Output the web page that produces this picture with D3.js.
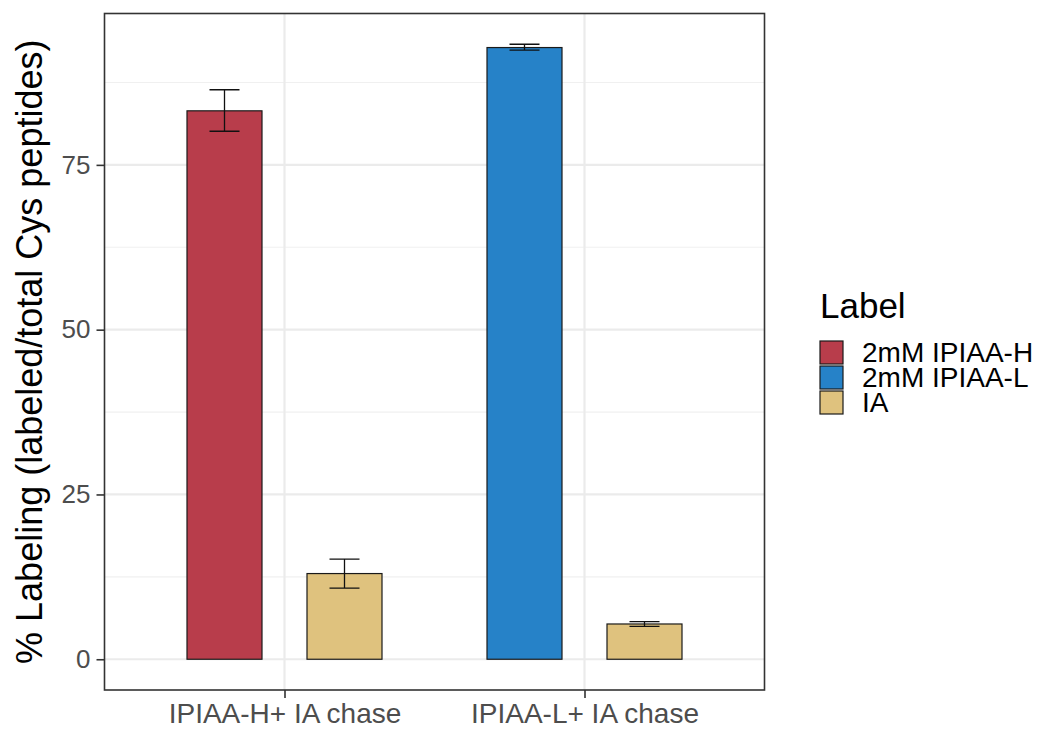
<!DOCTYPE html>
<html>
<head>
<meta charset="utf-8">
<script src="https://cdn.jsdelivr.net/npm/d3@7"></script>
<style>
body { margin: 0; background: #fff; }
text { font-family: "Liberation Sans", Arial, sans-serif; }
</style>
</head>
<body>
<svg width="1039" height="730"></svg>
<script>
const categories = ["IPIAA-H+ IA chase", "IPIAA-L+ IA chase"]
const labels = ["2mM IPIAA-H", "2mM IPIAA-L", "IA"]
const colors = ["#B83D4B", "#2682C8", "#DFC27E"]
// one row per bar: category index, label index, mean, lower, upper
const barCat = [0, 0, 1, 1]
const barLabel = [0, 2, 1, 2]
const barMean = [83.2, 13.0, 92.8, 5.35]
const barLow = [80.1, 10.8, 92.4, 5.0]
const barHigh = [86.4, 15.2, 93.3, 5.7]
const yTicks = [0, 25, 50, 75]
const yMinor = [12.5, 37.5, 62.5, 87.5]

const bars = barMean.map(function(d, i) {
  return { cat: barCat[i], label: barLabel[i], mean: d, lo: barLow[i], hi: barHigh[i] }
})

const panel = { left: 104.5, right: 764.5, top: 13.5, bottom: 690 }
const svg = d3.select("svg")

// discrete axis: categories at 1 and 2, expanded by 0.6
const x = d3.scaleLinear().domain([0.4, 2.6]).range([panel.left, panel.right])
const yMax = 93.3
const y = d3.scaleLinear().domain([-yMax * 0.05, yMax * 1.05]).range([panel.bottom, panel.top])

const dodge = 0.2, barW = 0.25, capW = 0.1
function barX(d) {
  const groupIdx = bars.filter(function(b) { return b.cat === d.cat }).indexOf(d)
  return d.cat + 1 + (groupIdx === 0 ? -dodge : dodge)
}

// grid
const grid = svg.append("g")
grid.selectAll("line.minor").data(yMinor).enter().append("line")
  .attr("x1", panel.left).attr("x2", panel.right)
  .attr("y1", function(d) { return y(d) }).attr("y2", function(d) { return y(d) })
  .attr("stroke", "#F0F0F0").attr("stroke-width", 1.2)
grid.selectAll("line.major").data(yTicks).enter().append("line")
  .attr("x1", panel.left).attr("x2", panel.right)
  .attr("y1", function(d) { return y(d) }).attr("y2", function(d) { return y(d) })
  .attr("stroke", "#EBEBEB").attr("stroke-width", 2.2)
grid.selectAll("line.vmajor").data(categories).enter().append("line")
  .attr("x1", function(d, i) { return x(i + 1) }).attr("x2", function(d, i) { return x(i + 1) })
  .attr("y1", panel.top).attr("y2", panel.bottom)
  .attr("stroke", "#EBEBEB").attr("stroke-width", 2.2)

// bars
svg.append("g").selectAll("rect").data(bars).enter().append("rect")
  .attr("x", function(d) { return x(barX(d) - barW / 2) })
  .attr("width", function(d) { return x(barW) - x(0) })
  .attr("y", function(d) { return y(d.mean) })
  .attr("height", function(d) { return y(0) - y(d.mean) })
  .attr("fill", function(d) { return colors[d.label] })
  .attr("stroke", "#1a1a1a").attr("stroke-width", 1.2)

// error bars
const eb = svg.append("g").attr("stroke", "#111").attr("stroke-width", 1.3).attr("fill", "none")
bars.forEach(function(d) {
  const cx = x(barX(d))
  const hw = (x(capW) - x(0)) / 2
  eb.append("path")
    .attr("d", "M" + (cx - hw) + "," + y(d.hi) + "H" + (cx + hw) +
      "M" + cx + "," + y(d.hi) + "V" + y(d.lo) +
      "M" + (cx - hw) + "," + y(d.lo) + "H" + (cx + hw))
})

// panel border
svg.append("rect")
  .attr("x", panel.left).attr("y", panel.top)
  .attr("width", panel.right - panel.left).attr("height", panel.bottom - panel.top)
  .attr("fill", "none").attr("stroke", "#333").attr("stroke-width", 1.6)

// axes
const yAxis = d3.axisLeft(y).tickValues(yTicks).tickSize(8).tickPadding(6)
svg.append("g").attr("transform", "translate(" + panel.left + ",0)").call(yAxis)
  .call(function(g) {
    g.select(".domain").remove()
    g.selectAll(".tick line").attr("stroke", "#333").attr("stroke-width", 1.6)
    g.selectAll(".tick text").attr("fill", "#4D4D4D").style("font-size", "26px")
      .style("font-family", "'Liberation Sans', Arial, sans-serif")
  })

const xAxis = d3.axisBottom(x).tickValues([1, 2])
  .tickFormat(function(d) { return categories[d - 1] }).tickSize(8).tickPadding(5)
svg.append("g").attr("transform", "translate(0," + panel.bottom + ")").call(xAxis)
  .call(function(g) {
    g.select(".domain").remove()
    g.selectAll(".tick line").attr("stroke", "#333").attr("stroke-width", 1.6)
    g.selectAll(".tick text").attr("fill", "#4D4D4D").style("font-size", "28px")
      .style("font-family", "'Liberation Sans', Arial, sans-serif")
  })

// y title
svg.append("text")
  .attr("transform", "translate(42," + ((panel.top + panel.bottom) / 2) + ") rotate(-90)")
  .attr("text-anchor", "middle")
  .style("font-size", "36px").attr("fill", "#000")
  .text("% Labeling (labeled/total Cys peptides)")

// legend
const legend = svg.append("g").attr("transform", "translate(820,0)")
legend.append("text").attr("x", 0).attr("y", 318)
  .style("font-size", "35px").attr("fill", "#000").text("Label")
legend.selectAll("rect").data(labels).enter().append("rect")
  .attr("x", 0).attr("y", function(d, i) { return 341 + i * 25 })
  .attr("width", 23).attr("height", 23)
  .attr("fill", function(d, i) { return colors[i] })
  .attr("stroke", "#1a1a1a").attr("stroke-width", 1.2)
legend.selectAll("text.item").data(labels).enter().append("text")
  .attr("class", "item")
  .attr("x", 42).attr("y", function(d, i) { return 352.5 + i * 25 })
  .attr("dy", "0.35em")
  .style("font-size", "28px").attr("fill", "#000")
  .text(function(d) { return d })
</script>
</body>
</html>
